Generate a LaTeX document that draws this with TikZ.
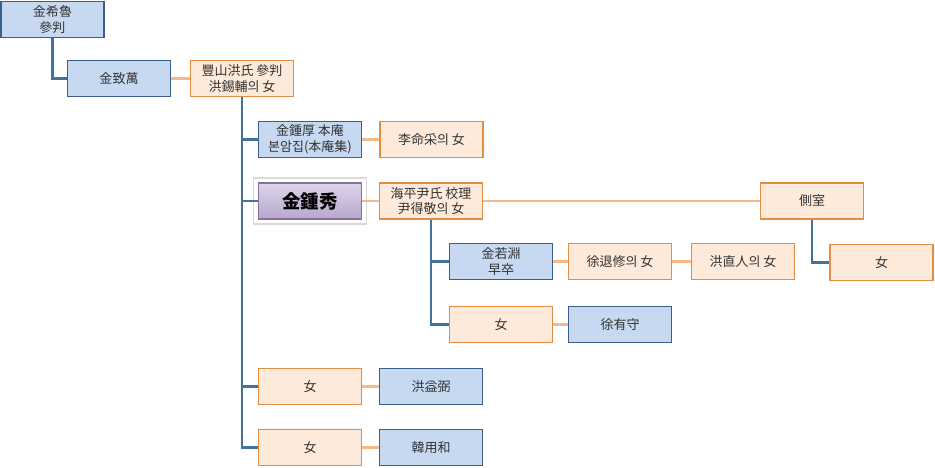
\documentclass[tikz,border=0pt]{standalone}
\usepackage{fontspec}
\setmainfont{Noto Sans CJK KR}
\usetikzlibrary{positioning}

\definecolor{kinfill}{HTML}{C6D9F1}
\definecolor{kinline}{HTML}{3A5F8C}
\definecolor{wifefill}{HTML}{FDEADA}
\definecolor{wifeline}{HTML}{E08E45}
\definecolor{bloodlink}{HTML}{44729F}
\definecolor{marrylink}{HTML}{F5B98C}
\definecolor{maintop}{HTML}{DDD5E9}
\definecolor{mainbottom}{HTML}{B7A7CD}
\definecolor{mainline}{HTML}{86729F}
\definecolor{textgray}{HTML}{333333}

\begin{document}
\begin{tikzpicture}[x=0.02cm, y=-0.02cm,
		kin/.style={draw=kinline, fill=kinfill, line width=1.1pt, minimum width=2.06cm, minimum height=0.72cm, inner sep=0pt, align=center, text=textgray, font=\fontsize{7.4}{9}\selectfont},
		wife/.style={kin, draw=wifeline, fill=wifefill},
		mainkin/.style={kin, draw=mainline, top color=maintop, bottom color=mainbottom, text=black, font=\fontsize{10.5}{12}\selectfont\bfseries,
			preaction={draw=black!15, line width=6.5pt}, preaction={draw=white, line width=5pt}},
		blood/.style={draw=bloodlink, line width=1.5pt},
		marry/.style={draw=marrylink, line width=1.4pt}
		]
		\useasboundingbox (0,0) rectangle (935,467);
		
		% Ancestors
		\node[kin] (heeno) at (52.5, 19.5) {金希魯\\參判};
		\node[kin] (chiman) at (119, 78.5) {金致萬};
		\node[wife] (hongssi) at (242, 78.5) {豐山洪氏 參判\\洪錫輔의 女};
		
		% Children of 金致萬
		\node[kin] (jonghu) at (310, 139.5) {金鍾厚 本庵\\본암집(本庵集)};
		\node[wife] (leessi) at (431.5, 139.5) {李命采의 女};
		\node[mainkin] (jongsu) at (310, 201) {金鍾秀};
		\node[wife] (yunssi) at (431, 201) {海平尹氏 校理\\尹得敬의 女};
		\node[wife] (cheuksil) at (812, 201) {側室};
		\node[wife] (daughter1) at (310, 386.5) {女};
		\node[kin] (hongikpil) at (431, 386.5) {洪益弼};
		\node[wife] (daughter2) at (310, 447.5) {女};
		\node[kin] (hanyonghwa) at (431, 447.5) {韓用和};
		
		% Children of 金鍾秀
		\node[kin] (yakyeon) at (501, 261.5) {金若淵\\早卒};
		\node[wife] (seossi) at (620, 261.5) {徐退修의 女};
		\node[wife] (hongssi2) at (743, 261.5) {洪直人의 女};
		\node[wife] (daughter3) at (501, 324.5) {女};
		\node[kin] (seoyusu) at (620, 324.5) {徐有守};
		\node[wife] (daughter4) at (881.5, 262.5) {女};
		
		% Descent lines
		\draw[blood] (heeno.south) |- (chiman.west);
		\draw[blood] (hongssi.south) |- (jonghu.west);
		\draw[blood] (hongssi.south) |- (jongsu.west);
		\draw[blood] (hongssi.south) |- (daughter1.west);
		\draw[blood] (hongssi.south) |- (daughter2.west);
		\draw[blood] (yunssi.south) |- (yakyeon.west);
		\draw[blood] (yunssi.south) |- (daughter3.west);
		\draw[blood] (cheuksil.south) |- (daughter4.west);
		
		% Marriage lines
		\draw[marry] (chiman) -- (hongssi);
		\draw[marry] (jonghu) -- (leessi);
		\draw[marry] (jongsu) -- (yunssi);
		\draw[marry] (yunssi) -- (cheuksil);
		\draw[marry] (daughter1) -- (hongikpil);
		\draw[marry] (daughter2) -- (hanyonghwa);
		\draw[marry] (yakyeon) -- (seossi);
		\draw[marry] (seossi) -- (hongssi2);
		\draw[marry] (daughter3) -- (seoyusu);
		
	\end{tikzpicture}
\end{document}
